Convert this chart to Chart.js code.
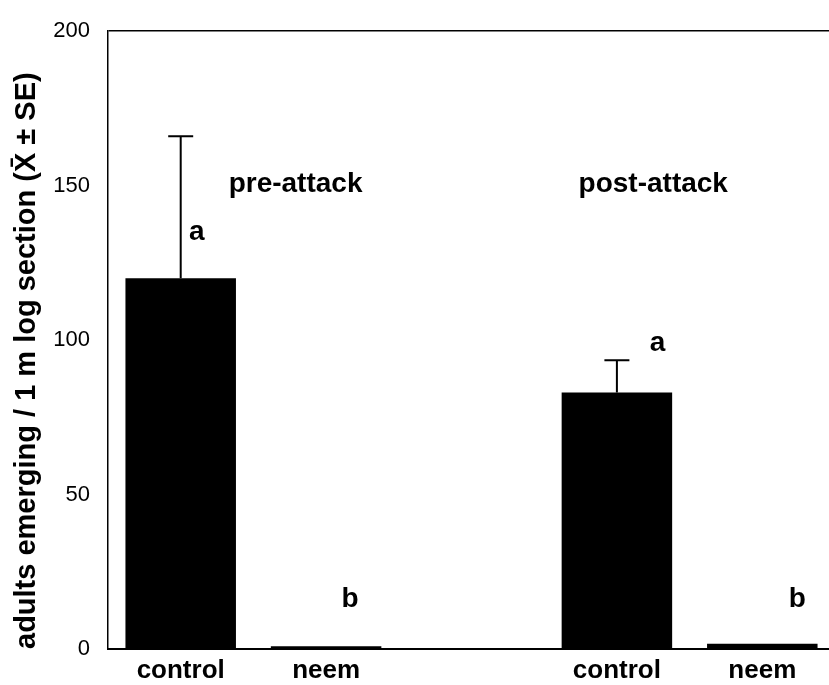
<!DOCTYPE html>
<html>
<head>
<meta charset="utf-8">
<script src="https://cdn.jsdelivr.net/npm/chart.js@4"></script>
<style>
  html, body { margin: 0; padding: 0; background: #fff; overflow: hidden; }
  #wrap { width: 829px; height: 685px; overflow: hidden; }
</style>
</head>
<body>
<div id="wrap"><canvas id="chart" width="835" height="685"></canvas></div>
<script>
// data
const categories = ["control", "neem", "", "control", "neem"]
const means = [120, 0.9, null, 83, 1.7]
const errors = [46, 0, null, 10.5, 0]
const yTicks = [0, 50, 100, 150, 200]

// group titles and significance letters (x = category index, y = data value)
const groupLabels = ["pre-attack", "post-attack"]
const groupX = [0.79, 3.25]
const groupY = [150.5, 150.5]
const letters = ["a", "b", "", "a", "b"]
const letterX = [0.11, 1.165, 0, 3.28, 4.24]
const letterY = [135, 16, 0, 99, 16]

const errorBars = {
  id: "errorBars",
  afterDatasetsDraw(chart) {
    const ctx = chart.ctx
    const y = chart.scales.y
    const meta = chart.getDatasetMeta(0)
    ctx.save()
    ctx.strokeStyle = "#000"
    ctx.lineWidth = 2
    meta.data.forEach((bar, i) => {
      if (means[i] == null || !errors[i]) return
      const top = y.getPixelForValue(means[i] + errors[i])
      ctx.beginPath()
      ctx.moveTo(bar.x, bar.y)
      ctx.lineTo(bar.x, top)
      ctx.moveTo(bar.x - 12.5, top)
      ctx.lineTo(bar.x + 12.5, top)
      ctx.stroke()
    })
    ctx.restore()
  },
}

const annotations = {
  id: "annotations",
  afterDraw(chart) {
    const ctx = chart.ctx
    const x = chart.scales.x
    const y = chart.scales.y
    ctx.save()
    ctx.fillStyle = "#000"
    ctx.textAlign = "center"
    ctx.textBaseline = "middle"
    ctx.font = "bold 28px Arial, 'Liberation Sans', sans-serif"
    groupLabels.forEach((t, i) => {
      ctx.fillText(t, x.getPixelForValue(groupX[i]), y.getPixelForValue(groupY[i]))
    })
    letters.forEach((t, i) => {
      if (!t) return
      ctx.fillText(t, x.getPixelForValue(letterX[i]), y.getPixelForValue(letterY[i]))
    })
    ctx.restore()
  },
}

new Chart(document.getElementById("chart").getContext("2d"), {
  type: "bar",
  data: {
    labels: categories,
    datasets: [
      {
        data: means,
        backgroundColor: "#000",
        borderWidth: 0,
        barPercentage: 0.76,
        categoryPercentage: 1,
      },
    ],
  },
  options: {
    responsive: false,
    devicePixelRatio: 1,
    animation: false,
    layout: { padding: { top: 21, left: 0, right: 0, bottom: 0 } },
    plugins: {
      legend: { display: false },
      tooltip: { enabled: false },
      title: { display: false },
    },
    scales: {
      x: {
        grid: { display: false, drawTicks: false },
        border: { display: true, color: "#000", width: 2 },
        ticks: {
          color: "#000",
          padding: 6,
          font: { family: "Arial, 'Liberation Sans', sans-serif", size: 26, weight: "bold" },
        },
        afterFit: (s) => { s.height = 36 },
      },
      y: {
        min: 0,
        max: 200,
        afterBuildTicks: (s) => { s.ticks = yTicks.map((v) => ({ value: v })) },
        grid: {
          drawTicks: false,
          color: (c) => (c.tick && c.tick.value === 200 ? "#000" : "rgba(0,0,0,0)"),
          lineWidth: 1.5,
        },
        border: { display: true, color: "#000", width: 1.5 },
        ticks: {
          color: "#000",
          padding: 18,
          font: { family: "Arial, 'Liberation Sans', sans-serif", size: 22 },
        },
        title: {
          display: true,
          text: "adults emerging / 1 m log section (X\u0304 \u00b1 SE)",
          align: "start",
          color: "#000",
          padding: { top: 10, bottom: 0 },
          font: { family: "Arial, 'Liberation Sans', sans-serif", size: 29, weight: "bold" },
        },
        afterFit: (s) => { s.width = 108 },
      },
    },
  },
  plugins: [errorBars, annotations],
})
</script>
</body>
</html>
